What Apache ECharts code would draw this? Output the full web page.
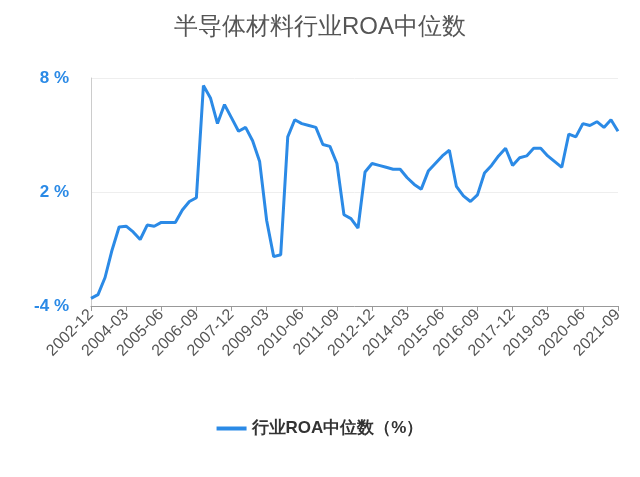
<!DOCTYPE html><html><head><meta charset="utf-8"><script src="https://cdn.jsdelivr.net/npm/echarts@6/dist/echarts.min.js"></script></head><body style="margin:0"><div id="c" style="width:640px;height:477px"></div><script>
const categories=[];
for(let y=2002,q=4;categories.length<76;){categories.push(y+'-'+String(q*3).padStart(2,'0'));q++;if(q>4){q=1;y++;}}
const values=[-3.6,-3.4,-2.5,-1.05,0.16,0.2,-0.1,-0.5,0.26,0.2,0.4,0.4,0.4,1.05,1.5,1.7,7.6,6.95,5.6,6.6,5.9,5.2,5.4,4.7,3.6,0.5,-1.4,-1.3,4.9,5.8,5.6,5.5,5.4,4.5,4.4,3.5,0.8,0.6,0.1,3.05,3.5,3.4,3.3,3.2,3.2,2.75,2.4,2.15,3.1,3.5,3.9,4.2,2.3,1.8,1.5,1.85,3.0,3.4,3.9,4.3,3.4,3.8,3.9,4.3,4.3,3.9,3.6,3.3,5.05,4.9,5.6,5.5,5.7,5.4,5.8,5.2];
const seriesName='行业ROA中位数（%）';
const ch=echarts.init(document.getElementById('c'));
ch.setOption({
title:{text:'半导体材料行业ROA中位数',left:'center',top:10,textStyle:{color:'#555',fontSize:24,fontWeight:'normal'}},
legend:{bottom:35,icon:'rect',itemWidth:30,itemHeight:4,textStyle:{fontSize:17,fontWeight:'bold',color:'#333'},data:[seriesName]},
grid:{left:91,right:22,top:78,bottom:171},
xAxis:{type:'category',data:categories,boundaryGap:false,axisLine:{onZero:false,lineStyle:{color:'#999'}},axisTick:{show:true,interval:4,length:5,lineStyle:{color:'#999'}},axisLabel:{interval:4,rotate:45,color:'#555',fontSize:16,margin:6}},
yAxis:{type:'value',min:-4,max:8,interval:6,axisLine:{show:true,lineStyle:{color:'#ccc'}},splitLine:{lineStyle:{color:'#eee'}},axisLabel:{formatter:'{value} %',color:'#2b8ae6',fontSize:17,fontWeight:'bold',margin:22}},
series:[{name:seriesName,type:'line',data:values,showSymbol:false,lineStyle:{width:3,color:'#2b8ae6'},itemStyle:{color:'#2b8ae6'}}]
});
</script></body></html>
